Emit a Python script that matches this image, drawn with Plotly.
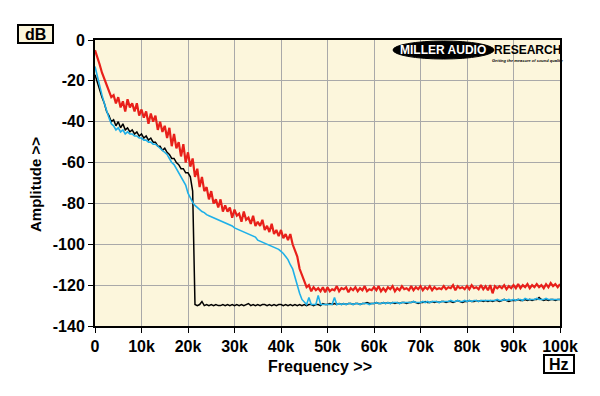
import plotly.graph_objects as go

# Frequency bins (kHz), 0.5 kHz spacing, 0 .. 100 kHz
FREQ_KHZ = [i * 0.5 for i in range(201)]

RED_DB = [
    -5, -8, -12, -16, -19, -23, -25, -28, -27, -31,
    -28, -33, -30, -35, -29, -33, -31, -35, -31, -37,
    -34, -38, -35, -41, -36, -40, -37, -44, -40, -45,
    -42, -48, -43, -52, -46, -53, -50, -57, -51, -60,
    -55, -62, -58, -67, -63, -72, -67, -74, -72, -78,
    -74, -80, -78, -82, -78, -84, -81, -84, -82, -87,
    -83, -86, -85, -89, -84, -88, -87, -90, -86, -91,
    -89, -91, -88, -93, -91, -94, -90, -95, -93, -96,
    -93, -97, -95, -98, -95, -100, -103, -106, -112, -115,
    -118, -121, -120, -123, -121, -122.5, -121.5, -123, -121, -123.5,
    -121, -123, -122, -122.5, -120.5, -123, -121.5, -122, -121, -123.5,
    -121.5, -122.5, -121, -123, -121.5, -122.5, -120.5, -123, -122, -122.5,
    -121, -122.5, -120.5, -123, -121.5, -123, -121, -122, -120.5, -123,
    -121.5, -122.5, -120.5, -122, -121.5, -122.5, -120.5, -122.5, -121, -122,
    -120.5, -122.5, -121, -122, -120.5, -122.5, -121, -122, -121.5, -122,
    -120.5, -122, -121, -121.5, -120, -122.5, -120.5, -121.5, -121, -122,
    -120.5, -122, -120, -121.5, -121, -122, -120, -122, -120.5, -122.5,
    -120, -124, -120.5, -121.5, -120.5, -121.5, -120, -122, -120.5, -121.5,
    -120, -121.5, -119.5, -121.5, -120, -121, -119.5, -121.5, -120, -121,
    -119.5, -121, -120, -121.5, -119.5, -121, -119, -120.5, -119.5, -121,
    -119.5,
]

BLACK_DB = [
    -17, -21, -25, -28, -31, -35, -37, -40, -39, -42,
    -40, -43, -41, -44, -43, -45, -44, -46, -45, -47,
    -46, -48, -47, -49, -48, -50, -50, -52, -52, -54,
    -53, -55, -56, -58, -58, -60, -61, -63, -63, -65,
    -65, -67, -74, -129.5, -130, -129.5, -128, -130, -129.5, -130,
    -129.5, -130, -129.5, -130, -130, -129.5, -130, -129.5, -130, -129.5,
    -130, -129.5, -130, -129.5, -130, -129.5, -129, -130, -129.5, -130,
    -129.5, -130, -129.5, -129.5, -130, -129.5, -130, -129.5, -130, -129.5,
    -129.5, -130, -129.5, -130, -129.5, -130, -129.5, -130, -129.5, -130,
    -129.5, -130, -129.5, -129.5, -130, -129.5, -129.5, -130, -129, -129.5,
    -129.5, -129, -129.5, -129, -129.5, -129, -129.5, -129, -129.5, -129,
    -129, -129.5, -129, -129, -129.5, -129, -129, -128.5, -129, -129,
    -129, -128.5, -129, -129, -128.5, -129, -128.5, -129, -128.5, -129,
    -128.5, -129, -128.5, -128.5, -129, -128.5, -128.5, -128, -128.5, -129,
    -128.5, -128.5, -128, -128.5, -128.5, -128, -128.5, -128, -128.5, -128,
    -128, -128.5, -128, -128, -128.5, -128, -127.5, -128, -128.5, -128,
    -128, -127.5, -128, -128, -127.5, -128, -127.5, -128, -127.5, -128,
    -127.5, -128, -127.5, -127.5, -128, -127.5, -127, -127.5, -128, -127.5,
    -127.5, -127.5, -127, -127.5, -127.5, -127, -127.5, -127, -127.5, -127,
    -127, -126, -127, -127.5, -127, -127.5, -127, -127, -127.5, -127,
    -127,
]

CYAN_DB = [
    -13, -18, -23, -27, -31, -35, -38, -41, -42, -44,
    -43, -45, -44, -46, -45, -46, -46, -47, -47, -48,
    -48, -49, -49, -50, -50, -51, -51, -52, -53, -54,
    -55, -56, -58, -60, -61, -63, -65, -67, -69, -71,
    -75, -77.5, -79.5, -81, -82, -83, -84, -84.5, -85.5, -86,
    -86.5, -87, -87.5, -88, -88.5, -89, -89.5, -90, -90.5, -91,
    -92, -92.5, -93, -93.5, -94, -94.5, -95, -95.5, -96, -96.5,
    -98, -98.5, -99, -99.5, -100, -100.5, -101, -101.5, -102, -102.5,
    -103.5, -104.5, -106, -107.5, -110, -112, -116, -120.5, -124, -127,
    -128.5, -129.5, -126, -129.5, -129.5, -129.5, -125, -129.5, -129.5, -129.5,
    -129.5, -129.5, -129.5, -126, -129.5, -129, -129.5, -129, -129.5, -129,
    -129, -129.5, -129, -129, -129.5, -129, -129, -129, -129.5, -129,
    -129, -128.5, -129, -129, -128.5, -129, -128.5, -129, -128.5, -128.5,
    -128.5, -129, -128.5, -128.5, -128.5, -128.5, -128.5, -128, -128.5, -128.5,
    -128.5, -128, -128.5, -128, -128.5, -128, -128, -128, -128.5, -128,
    -128, -128, -128, -127.5, -128, -128, -127.5, -128, -128, -127.5,
    -128, -127.5, -128, -127.5, -127.5, -128, -127.5, -127.5, -127.5, -127.5,
    -127.5, -127.5, -127.5, -127, -127.5, -127.5, -127, -127.5, -127, -127.5,
    -127, -127.5, -127, -127, -127.5, -126.5, -127, -127, -127, -127,
    -126.5, -127, -127, -127, -126.5, -127, -127, -127, -127, -127,
    -127,
]

X_TICKS = [0, 10, 20, 30, 40, 50, 60, 70, 80, 90, 100]
X_TICK_LABELS = ["0", "10k", "20k", "30k", "40k", "50k", "60k", "70k", "80k", "90k", "100k"]
Y_TICKS = [0, -20, -40, -60, -80, -100, -120, -140]
Y_TICK_LABELS = ["0", "-20", "-40", "-60", "-80", "-100", "-120", "-140"]

FONT = "Liberation Sans, Arial, sans-serif"
W, H = 600, 396
L, R, T, B = 95, 40, 40, 70
PW, PH = W - L - R, H - T - B


def px(xp):
    return (xp - L) / PW


def py(yp):
    return (H - B - yp) / PH


fig = go.Figure()
fig.add_trace(go.Scatter(x=FREQ_KHZ, y=BLACK_DB, mode="lines",
                         line=dict(color="#000000", width=1.5), name="black"))
fig.add_trace(go.Scatter(x=FREQ_KHZ, y=CYAN_DB, mode="lines",
                         line=dict(color="#1FB0E8", width=1.6), name="cyan"))
fig.add_trace(go.Scatter(x=FREQ_KHZ, y=RED_DB, mode="lines",
                         line=dict(color="#E8201A", width=2.2), name="red"))

axis_common = dict(
    showgrid=True, gridcolor="#A9A9A9", gridwidth=1,
    showline=True, mirror=True, linecolor="#000000", linewidth=2,
    ticks="outside", ticklen=5, tickcolor="#000000", tickwidth=1,
    zeroline=False,
    tickfont=dict(family=FONT, size=16, color="#000000", weight="bold"),
)

fig.update_layout(
    width=W, height=H,
    margin=dict(l=L, r=R, t=T, b=B),
    paper_bgcolor="#FFFFFF",
    plot_bgcolor="#FCF6DC",
    showlegend=False,
    xaxis=dict(range=[0, 100], tickvals=X_TICKS, ticktext=X_TICK_LABELS, **axis_common),
    yaxis=dict(range=[-140, 0], tickvals=Y_TICKS, ticktext=Y_TICK_LABELS, **axis_common),
)

bold = dict(family=FONT, color="#000000", weight="bold")
center = dict(xanchor="center", yanchor="middle", showarrow=False,
              xref="paper", yref="paper")

# dB box
fig.add_shape(type="rect", xref="paper", yref="paper",
              x0=px(18), x1=px(53), y0=py(43), y1=py(25),
              line=dict(color="#000000", width=2), fillcolor="#FCF6DC")
fig.add_annotation(x=px(35.5), y=py(34.5), text="dB",
                   font=dict(size=16, **bold), **center)
# Hz box
fig.add_shape(type="rect", xref="paper", yref="paper",
              x0=px(544), x1=px(574), y0=py(373), y1=py(355),
              line=dict(color="#000000", width=2), fillcolor="#FFFFFF")
fig.add_annotation(x=px(559), y=py(364.5), text="Hz",
                   font=dict(size=16, **bold), **center)

# axis titles
fig.add_annotation(x=px(35), y=py(185), text="Amplitude >>", textangle=-90,
                   font=dict(size=15, **bold), **center)
fig.add_annotation(x=px(320), y=py(366), text="Frequency >>",
                   font=dict(size=16, **bold), **center)

# Logo
fig.add_shape(type="circle", xref="paper", yref="paper",
              x0=px(393), x1=px(494), y0=py(59), y1=py(41),
              line=dict(color="#000000", width=1), fillcolor="#000000")
fig.add_annotation(x=px(443), y=py(50), text="MILLER AUDIO",
                   font=dict(family=FONT, size=12, color="#FFFFFF", weight="bold"),
                   **center)
fig.add_annotation(x=px(527), y=py(49.5), text="RESEARCH",
                   font=dict(size=12, **bold), **center)
fig.add_annotation(x=px(527), y=py(60.5),
                   text="<i>Getting the measure of sound quality</i>",
                   font=dict(size=4, **bold), **center)

fig.write_html("out.html", post_script="document.body.style.margin='0';",
               config={"displayModeBar": False})
